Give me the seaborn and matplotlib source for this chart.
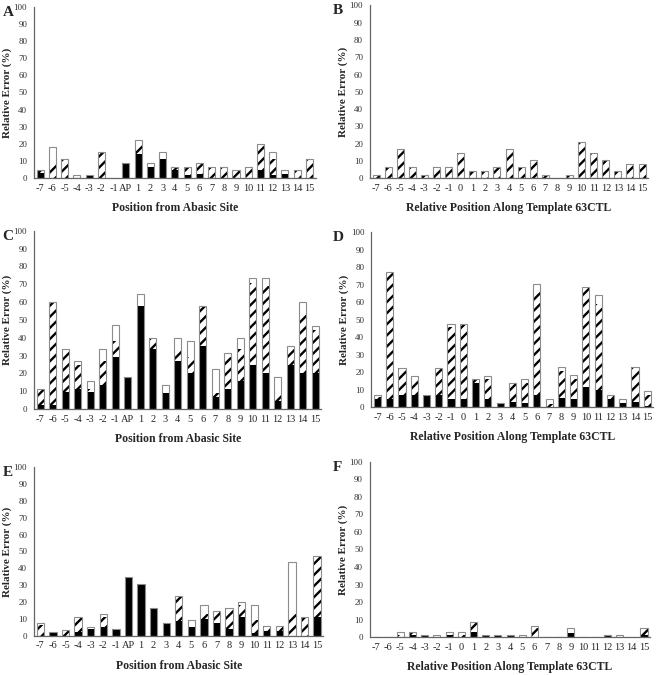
import numpy as np
import pandas as pd
import matplotlib
matplotlib.use("Agg")
import matplotlib.pyplot as plt
import seaborn as sns

# x categories
labels_ap = ['-7', '-6', '-5', '-4', '-3', '-2', '-1', 'AP'] + [str(i) for i in range(1, 16)]
labels_tpl = ['-7', '-6', '-5', '-4', '-3', '-2', '-1', '0'] + [str(i) for i in range(1, 16)]

# segment heights per position (black / hatched / white)
a_black = [3, 0, 0, 0, 1.5, 0, 0, 9, 14, 6.5, 11, 5, 2, 2.5, 0, 0, 0, 0, 4.5, 2, 2.5, 0, 0]
a_hatch = [1.5, 9, 11, 0, 0.5, 15.5, 0, 0, 6, 0.5, 0, 1.5, 4.5, 6.5, 6.5, 6.5, 4.5, 6.5, 15.5, 9, 0, 4.5, 11]
a_white = [0, 9, 0, 2, 0, 0, 0, 0, 2, 2, 4.5, 0, 0, 0, 0, 0, 0, 0, 0, 4.5, 2, 0, 0]

b_black = [0] * 23
b_hatch = [2, 6.5, 17, 6.5, 2, 6.5, 6.5, 14.5, 4, 4, 6.5, 17, 6.5, 10.5, 2, 0, 2, 21, 14.5, 10.5, 4, 8.5, 8.5]
b_white = [0] * 23

c_black = [2.5, 2.5, 9.5, 11.5, 9.5, 13.5, 29, 18, 58, 33.5, 9, 27, 20, 35.5, 7, 11.5, 16, 24.5, 20.5, 4.5, 25, 20, 20.5]
c_hatch = [8.5, 57.5, 24, 13, 1.5, 13.5, 9, 0, 0, 6.5, 0, 6.5, 9, 22.5, 2, 17.5, 17.5, 46.5, 48.5, 4.5, 8.5, 33.5, 24]
c_white = [0, 0, 0, 2.5, 4.5, 6.5, 9, 0, 6.5, 0, 4.5, 6.5, 9, 0, 13.5, 2.5, 6.5, 2.5, 4.5, 9, 2, 6.5, 2]

d_black = [4.5, 4.5, 7, 7, 7, 7, 4.5, 4.5, 14, 4.5, 2.5, 3, 2.3, 7, 0, 5, 4.8, 11.5, 9.5, 4.8, 2.3, 3, 0.5]
d_hatch = [1, 72.5, 15.5, 9, 0, 15.5, 41, 43, 2, 11.5, 0, 10.7, 11.4, 59, 1.7, 15.4, 11.2, 56.5, 49.5, 2.1, 0, 19.9, 6.2]
d_white = [1.5, 0, 0, 2, 0, 0, 2, 0, 0, 2, 0, 0, 2.5, 4.5, 3.1, 2.5, 2.5, 0.5, 4.8, 0, 2.5, 0, 2.6]

e_black = [0, 1.5, 0, 2, 4, 5.5, 4, 35, 31, 16.5, 7.5, 9, 5.5, 10, 7.7, 4.1, 11.2, 1.4, 2.8, 2.8, 0, 0, 11]
e_hatch = [6.5, 0.5, 3.5, 9, 0, 5.5, 0, 0, 0, 0, 0, 14.5, 0, 3.2, 7.1, 12.5, 6.9, 7.9, 2.9, 2.9, 13.2, 11.2, 36.3]
e_white = [1, 0, 0, 0, 1.5, 2, 0, 0, 0, 0, 0, 0, 3.8, 5.3, 0, 0, 2, 9.2, 0, 0, 30.6, 0, 0]

f_black = [0, 0, 0, 1, 1, 0, 1, 0, 3, 1.5, 1.5, 1.5, 0, 0, 0, 0, 2.5, 0, 0, 1, 0, 0, 1]
f_hatch = [0, 0, 1, 2, 0.5, 0, 2, 1, 5.5, 0, 0, 0, 0, 5, 0, 0, 0, 0, 0, 0.5, 0, 0, 4]
f_white = [0, 0, 2, 0, 0, 1.5, 0, 2, 0, 0, 0, 0, 1.5, 1.5, 0, 0, 2.5, 0, 0, 0, 1.5, 0, 0]

xlab_ap = 'Position from Abasic Site'
xlab_tpl = 'Relative Position Along Template 63CTL'

sns.set_style('white')
plt.rcParams['font.family'] = ['Liberation Serif', 'DejaVu Serif']
plt.rcParams['hatch.linewidth'] = 1.7


def stacked_panel(ax, labels, black, hatch, white, xlabel):
    """Stacked bars: black bottom, hatched middle, white top"""
    df = pd.DataFrame({'pos': labels, 'black': black, 'hatch': hatch, 'white': white})
    df['mid'] = df['black'] + df['hatch']
    df['total'] = df['mid'] + df['white']

    common = dict(x='pos', order=labels, ax=ax, width=0.58, saturation=1, errorbar=None)
    sns.barplot(data=df, y='total', color='white', linewidth=0, **common)
    sns.barplot(data=df, y='mid', color='white', edgecolor='black', linewidth=0, hatch='///', **common)
    sns.barplot(data=df, y='black', color='black', linewidth=0, **common)
    sns.barplot(data=df, y='total', color='0.55', fill=False, linewidth=0.8, **common)

    ax.set_ylim(0, 100)
    ax.set_xlim(-0.5, len(labels) - 0.5)
    ax.set_yticks(np.arange(0, 101, 10))
    ax.set_xticks(np.arange(-0.5, len(labels), 1), minor=True)
    ax.tick_params(axis='x', which='major', length=0, labelsize=7.5, pad=4, colors='0.15')
    ax.tick_params(axis='x', which='minor', length=3, width=0.7, color='0.4', direction='out')
    ax.tick_params(axis='y', length=3, width=0.7, color='0.4', direction='out',
                   labelsize=6.5, pad=2, colors='0.2')
    ax.tick_params(axis='y', color='0.4')
    sns.despine(ax=ax)
    for s in ['left', 'bottom']:
        ax.spines[s].set_color('0.4')
        ax.spines[s].set_linewidth(0.9)
    ax.set_xlabel(xlabel, fontsize=8.5, fontweight='bold', labelpad=7)
    ax.set_ylabel('Relative Error (%)', fontsize=8, fontweight='bold', labelpad=1)


fig = plt.figure(figsize=(6.56, 6.75), dpi=100)

panels = [
    ('A', [0.052, 0.736, 0.429, 0.254], labels_ap, a_black, a_hatch, a_white, xlab_ap),
    ('B', [0.564, 0.736, 0.424, 0.256], labels_tpl, b_black, b_hatch, b_white, xlab_tpl),
    ('C', [0.052, 0.394, 0.438, 0.264], labels_ap, c_black, c_hatch, c_white, xlab_ap),
    ('D', [0.566, 0.397, 0.430, 0.259], labels_tpl, d_black, d_hatch, d_white, xlab_tpl),
    ('E', [0.052, 0.058, 0.441, 0.250], labels_ap, e_black, e_hatch, e_white, xlab_ap),
    ('F', [0.564, 0.056, 0.427, 0.260], labels_tpl, f_black, f_hatch, f_white, xlab_tpl),
]

for letter, rect, labels, black, hatch, white, xlabel in panels:
    ax = fig.add_axes(rect)
    stacked_panel(ax, labels, black, hatch, white, xlabel)
    x_letter = 0.004 if letter in 'ACE' else 0.508
    fig.text(x_letter, rect[1] + rect[3] - 0.008, letter, fontsize=11, fontweight='bold',
             ha='left', va='center')

fig.savefig('out.png', dpi=100)
